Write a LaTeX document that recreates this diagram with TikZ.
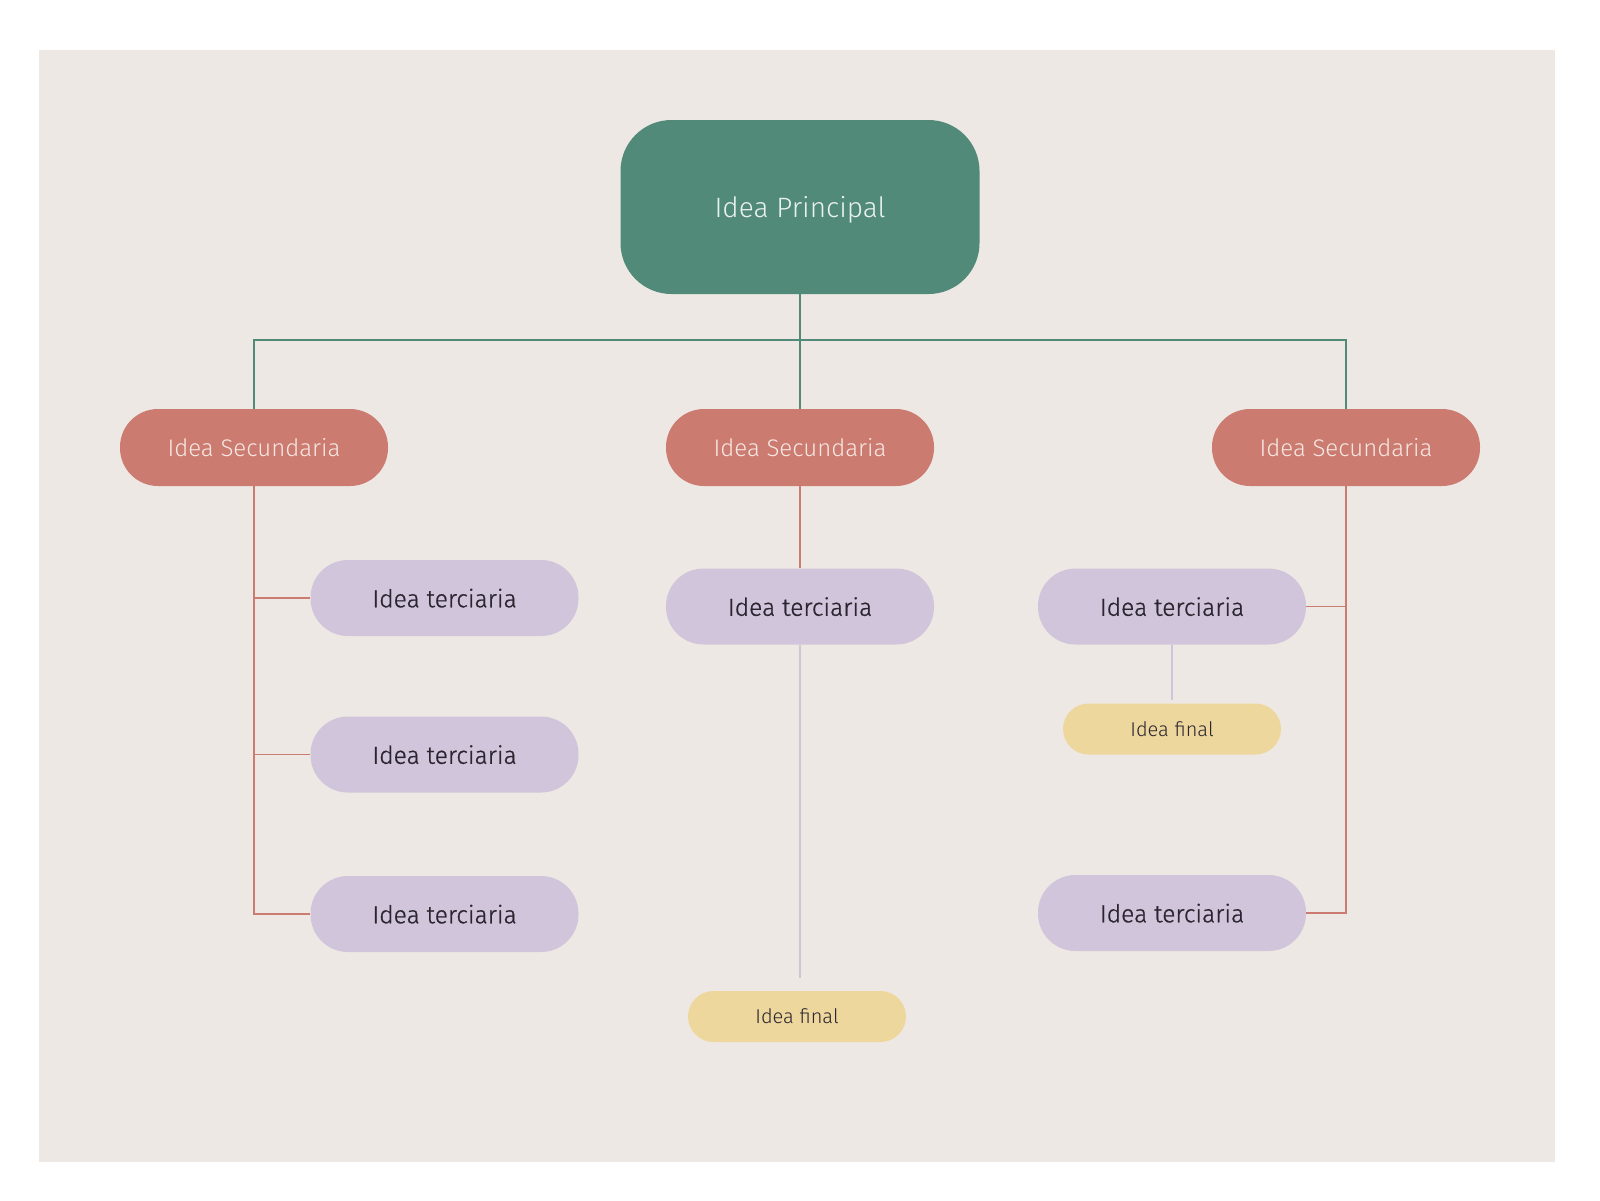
\documentclass[tikz,border=0pt]{standalone}
\usepackage{fontspec}
\setmainfont{Fira Sans}
\newfontfamily\lightfont{Fira Sans Light}
\newfontfamily\bookfont{Fira Sans Light}[FakeBold=0.8]
\definecolor{bgc}{HTML}{EDE8E4}
\definecolor{greenc}{HTML}{518A79}
\definecolor{salmonc}{HTML}{CC7B70}
\definecolor{lavc}{HTML}{D0C5DA}
\definecolor{lavline}{HTML}{CEC6D8}
\definecolor{yelc}{HTML}{EDD79C}
\definecolor{darktxt}{HTML}{2A2530}
\definecolor{pinktxt}{HTML}{F6E7E3}
\definecolor{greentxt}{HTML}{EAF2EE}
\tikzset{
  mainbox/.style={fill=greenc, rounded corners=51pt, minimum width=359pt, minimum height=174pt, inner sep=0pt,
    text depth=0pt, text=greentxt, font=\lightfont\fontsize{28}{34}\selectfont},
  secbox/.style={fill=salmonc, rounded corners=38pt, minimum width=268pt, minimum height=77pt, inner sep=0pt,
    text depth=0pt, text=pinktxt, font=\lightfont\fontsize{24}{28}\selectfont},
  terbox/.style={fill=lavc, rounded corners=37.5pt, minimum width=268pt, minimum height=76pt, inner sep=0pt,
    text depth=0pt, text=darktxt, font=\bookfont\fontsize{24.6}{29}\selectfont},
  finbox/.style={fill=yelc, rounded corners=25.5pt, minimum width=218pt, minimum height=51pt, inner sep=0pt,
    text depth=0pt, text=darktxt, font=\lightfont\fontsize{20}{23}\selectfont},
  gline/.style={draw=greenc, line width=1.6pt},
  sline/.style={draw=salmonc, line width=1.6pt},
  lline/.style={draw=lavline, line width=1.6pt},
}
\begin{document}
\begin{tikzpicture}[x=1pt, y=-1pt]
\useasboundingbox (0,0) rectangle (1600,1200);
\fill[bgc] (39,50) rectangle (1555,1162);

\node[mainbox] (main) at (800,207) {Idea Principal};

\node[secbox] (s1) at (254,447.5) {Idea Secundaria};
\node[secbox] (s2) at (800,447.5) {Idea Secundaria};
\node[secbox] (s3) at (1346,447.5) {Idea Secundaria};

\node[terbox] (t11) at (444.5,598) {Idea terciaria};
\node[terbox] (t12) at (444.5,754.5) {Idea terciaria};
\node[terbox] (t13) at (444.5,914) {Idea terciaria};

\node[terbox] (t21) at (800,606.5) {Idea terciaria};
\node[finbox] (f21) at (797,1016.5) {Idea final};

\node[terbox] (t31) at (1172,606.5) {Idea terciaria};
\node[finbox] (f31) at (1172,729) {Idea final};
\node[terbox] (t32) at (1172,913) {Idea terciaria};

\coordinate (bar) at (800,340);
\coordinate (e21) at (800,978);
\coordinate (e31) at (1172,700);

% green connectors
\draw[gline] (main.south) -- (s2.north);
\draw[gline] (s1.north) |- (bar) -| (s3.north);

% left branch
\draw[sline] (s1.south) |- (t13.west);
\draw[sline] (s1.south |- t11.west) -- (t11.west);
\draw[sline] (s1.south |- t12.west) -- (t12.west);

% middle branch
\draw[sline] (s2.south) -- (t21.north);
\draw[lline] (t21.south) -- (e21);

% right branch
\draw[sline] (s3.south) |- (t32.east);
\draw[sline] (s3.south |- t31.east) -- (t31.east);
\draw[lline] (t31.south) -- (e31);
\end{tikzpicture}
\end{document}
